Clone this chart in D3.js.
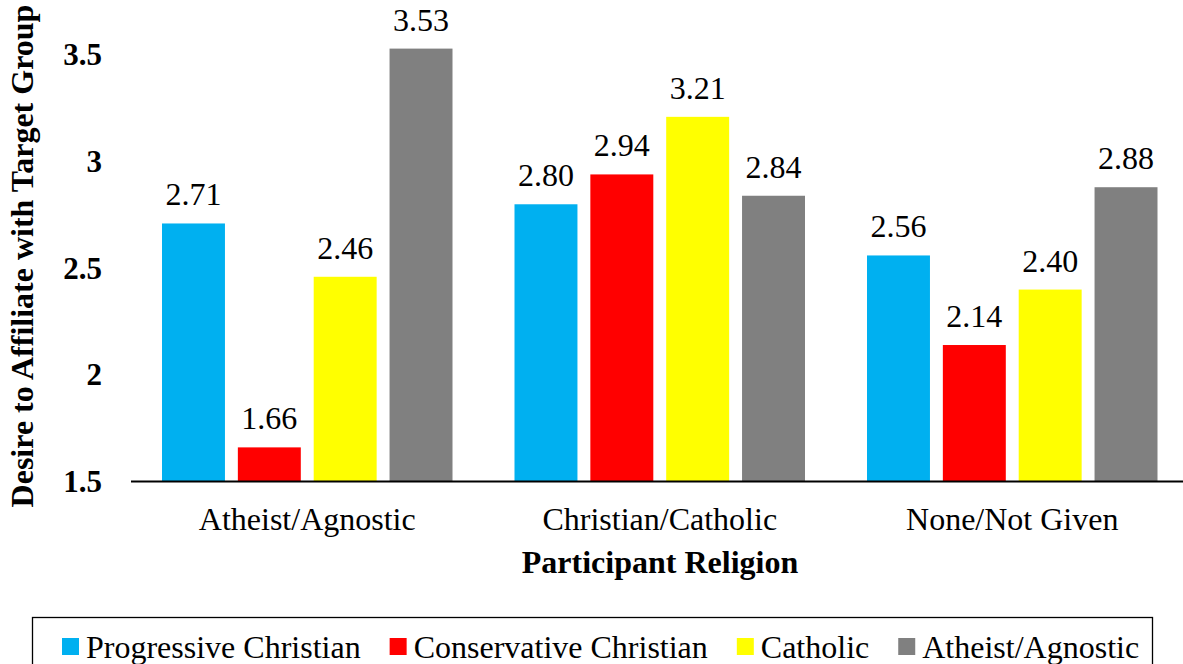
<!DOCTYPE html>
<html>
<head>
<meta charset="utf-8">
<script src="https://cdn.jsdelivr.net/npm/d3@7"></script>
<style>
  body { margin: 0; background: #fff; }
  svg text { font-family: "Liberation Serif", "Times New Roman", serif; fill: #000; }
</style>
</head>
<body>
<div id="viz"></div>
<script>
// data
var categories = ['Atheist/Agnostic', 'Christian/Catholic', 'None/Not Given'];
var seriesNames = ['Progressive Christian', 'Conservative Christian', 'Catholic', 'Atheist/Agnostic'];
var progressive = [2.71, 2.80, 2.56];
var conservative = [1.66, 2.94, 2.14];
var catholic = [2.46, 3.21, 2.40];
var atheist = [3.53, 2.84, 2.88];
var yTicks = [1.5, 2, 2.5, 3, 3.5];
var yTickLabels = ['1.5', '2', '2.5', '3', '3.5'];
var colors = ['#00B0F0', '#FF0000', '#FFFF00', '#808080'];

var seriesValues = [progressive, conservative, catholic, atheist];

var W = 1183, H = 664;
var left = 131, right = 1188.5, base = 481.5, top35 = 55;
var serif = '"Liberation Serif", "Times New Roman", serif';

var svg = d3.select('#viz')
    .append('svg')
    .attr('width', W)
    .attr('height', H)
    .attr('font-family', serif);

var x0 = d3.scaleBand().domain(categories).range([left, right]).padding(0);
var x1 = d3.scaleBand().domain(seriesNames)
    .range([31, x0.bandwidth() - 31])
    .paddingInner(0.17).paddingOuter(0);
var y = d3.scaleLinear().domain([1.5, 3.5]).range([base, top35]);

// bars
var groups = svg.selectAll('g.grp')
    .data(categories)
    .enter().append('g')
    .attr('class', 'grp')
    .attr('transform', function(d){ return 'translate(' + x0(d) + ',0)'; });

groups.selectAll('rect')
    .data(function(d, i){
        return seriesNames.map(function(s, j){ return {s: s, v: seriesValues[j][i], c: colors[j]}; });
    })
    .enter().append('rect')
    .attr('x', function(d){ return x1(d.s); })
    .attr('width', x1.bandwidth())
    .attr('y', function(d){ return y(d.v); })
    .attr('height', function(d){ return base - y(d.v); })
    .style('fill', function(d){ return d.c; });

groups.selectAll('text.val')
    .data(function(d, i){
        return seriesNames.map(function(s, j){ return {s: s, v: seriesValues[j][i]}; });
    })
    .enter().append('text')
    .attr('class', 'val')
    .attr('x', function(d){ return x1(d.s) + x1.bandwidth() / 2; })
    .attr('y', function(d){ return y(d.v) - 18; })
    .attr('text-anchor', 'middle')
    .style('font-family', serif)
    .style('font-size', '32px')
    .text(function(d){ return d3.format('.2f')(d.v); });

// y axis (labels only)
var yAxis = svg.append('g')
    .attr('transform', 'translate(' + left + ',0)')
    .call(d3.axisLeft(y).tickValues(yTicks)
        .tickFormat(function(d, i){ return yTickLabels[i]; })
        .tickSize(0).tickPadding(29));
yAxis.select('.domain').remove();
yAxis.selectAll('text')
    .style('font-size', '31px')
    .style('font-weight', 'bold')
    .style('font-family', serif);

// x axis
var xAxis = svg.append('g')
    .attr('transform', 'translate(0,' + base + ')')
    .call(d3.axisBottom(x0).tickSize(0).tickPadding(26));
xAxis.select('.domain').attr('stroke', '#000').attr('stroke-width', 2.2)
    .attr('d', 'M' + left + ',0H' + W);
xAxis.selectAll('text')
    .style('font-size', '32px')
    .style('font-family', serif);

// axis titles
svg.append('text')
    .attr('transform', 'translate(33,256) rotate(-90)')
    .attr('text-anchor', 'middle')
    .style('font-family', serif)
    .style('font-size', '32px')
    .style('font-weight', 'bold')
    .text('Desire to Affiliate with Target Group');

svg.append('text')
    .attr('x', 660)
    .attr('y', 573)
    .attr('text-anchor', 'middle')
    .style('font-family', serif)
    .style('font-size', '32px')
    .style('font-weight', 'bold')
    .text('Participant Religion');

// legend
svg.append('rect')
    .attr('x', 32.5).attr('y', 617.5)
    .attr('width', 1120).attr('height', 60)
    .style('fill', 'none').style('stroke', '#000').style('stroke-width', 1.3);

var lx = 62;
seriesNames.forEach(function(s, j){
    svg.append('rect')
        .attr('x', lx).attr('y', 638)
        .attr('width', 17).attr('height', 17)
        .style('fill', colors[j]);
    var t = svg.append('text')
        .attr('x', lx + 24).attr('y', 658)
        .style('font-family', serif)
        .style('font-size', '32px')
        .text(s);
    lx = lx + 24 + t.node().getComputedTextLength() + 29;
});
</script>
</body>
</html>
